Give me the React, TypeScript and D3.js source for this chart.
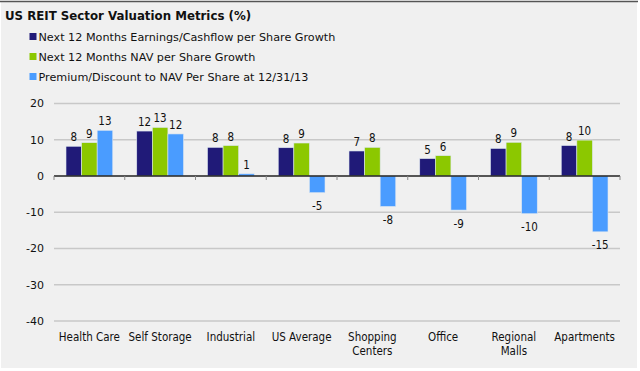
import React from "react";
import * as d3 from "d3";

const categories = [
  ["Health Care"],
  ["Self Storage"],
  ["Industrial"],
  ["US Average"],
  ["Shopping", "Centers"],
  ["Office"],
  ["Regional", "Malls"],
  ["Apartments"],
];
const seriesNames = [
  "Next 12 Months Earnings/Cashflow per Share Growth",
  "Next 12 Months NAV per Share Growth",
  "Premium/Discount to NAV Per Share at 12/31/13",
];
const earnings = [8.2, 12.4, 7.9, 7.8, 6.9, 4.8, 7.6, 8.4];
const navGrowth = [9.2, 13.4, 8.4, 9.1, 7.9, 5.6, 9.3, 9.9];
const premium = [12.6, 11.6, 0.6, -4.6, -8.4, -9.4, -10.4, -15.4];
const yTicks = [20, 10, 0, -10, -20, -30, -40];
const colors = ["#201a78", "#8cc800", "#4a9cff"];

const W = 640;
const H = 371;
const condensed = "'DejaVu Sans Condensed', 'DejaVu Sans', sans-serif";
const wide = "'DejaVu Sans', Verdana, sans-serif";

export default function App() {
  const left = 54;
  const right = 620;
  const y = d3.scaleLinear().domain([-40, 20]).range([321, 103.5]);
  const x0 = d3
    .scaleBand<number>()
    .domain(d3.range(categories.length))
    .range([left, right])
    .padding(0);
  const bw = x0.bandwidth();
  const x1 = d3
    .scaleBand<number>()
    .domain([0, 1, 2])
    .range([12, bw - 12])
    .padding(0);
  const series = [earnings, navGrowth, premium];
  const boundaries = d3.range(categories.length + 1).map((i) =>
    i < categories.length ? (x0(i) as number) : right
  );

  return (
    <svg
      width={W}
      height={H}
      style={{ position: "absolute", left: 0, top: 0, display: "block" }}
      fontFamily={condensed}
    >
      <rect x={0} y={0} width={W} height={H} fill="#ffffff" />
      <rect x={1} y={2} width={636} height={366} fill="#f0f0f0" />
      <line x1={0} x2={638} y1={1.5} y2={1.5} stroke="#555" strokeWidth={1.5} />
      <text x={5} y={20} fontSize={11.8} fontWeight="bold" fill="#111" fontFamily={wide}>
        US REIT Sector Valuation Metrics (%)
      </text>
      {seriesNames.map((s, i) => (
        <g key={s}>
          <rect x={29.5} y={33 + i * 20} width={7} height={7} fill={colors[i]} />
          <text x={38.5} y={40.5 + i * 20} fontSize={11.2} fill="#111" fontFamily={wide}>
            {s}
          </text>
        </g>
      ))}
      {yTicks.map((t) => (
        <g key={t}>
          {t !== 0 && (
            <line
              x1={left}
              x2={right}
              y1={y(t)}
              y2={y(t)}
              stroke="#c8c8c8"
              strokeWidth={1.5}
            />
          )}
          <text
            x={44}
            y={y(t)}
            dy="0.35em"
            textAnchor="end"
            fontSize={11}
            fill="#111"
            fontFamily={wide}
          >
            {t}
          </text>
        </g>
      ))}
      {series.map((vals, si) =>
        vals.map((v, ci) => {
          const bx = (x0(ci) as number) + (x1(si) as number);
          const top = y(Math.max(0, v));
          const bot = y(Math.min(0, v));
          const label = Math.round(v);
          const lx = bx + x1.bandwidth() / 2;
          return (
            <g key={`${si}-${ci}`}>
              <rect
                x={bx}
                y={top}
                width={x1.bandwidth()}
                height={bot - top}
                fill={colors[si]}
                stroke="#dde6f0"
                strokeWidth={0.6}
              />
              <text
                x={lx}
                y={v >= 0 ? top - 5 : bot + 17.5}
                textAnchor="middle"
                fontSize={11.5}
                fill="#111"
              >
                {label}
              </text>
            </g>
          );
        })
      )}
      <line x1={left} x2={right} y1={y(0)} y2={y(0)} stroke="#222" strokeWidth={1.5} />
      {boundaries.map((bx, i) => (
        <line
          key={i}
          x1={bx}
          x2={bx}
          y1={y(0)}
          y2={y(0) + 4}
          stroke="#888"
          strokeWidth={1}
        />
      ))}
      {categories.map((lines, i) => (
        <text
          key={i}
          x={(x0(i) as number) + bw / 2}
          y={341}
          textAnchor="middle"
          fontSize={11.5}
          fill="#111"
        >
          {lines.map((l, j) => (
            <tspan key={j} x={(x0(i) as number) + bw / 2} dy={j === 0 ? 0 : 14}>
              {l}
            </tspan>
          ))}
        </text>
      ))}
    </svg>
  );
}
